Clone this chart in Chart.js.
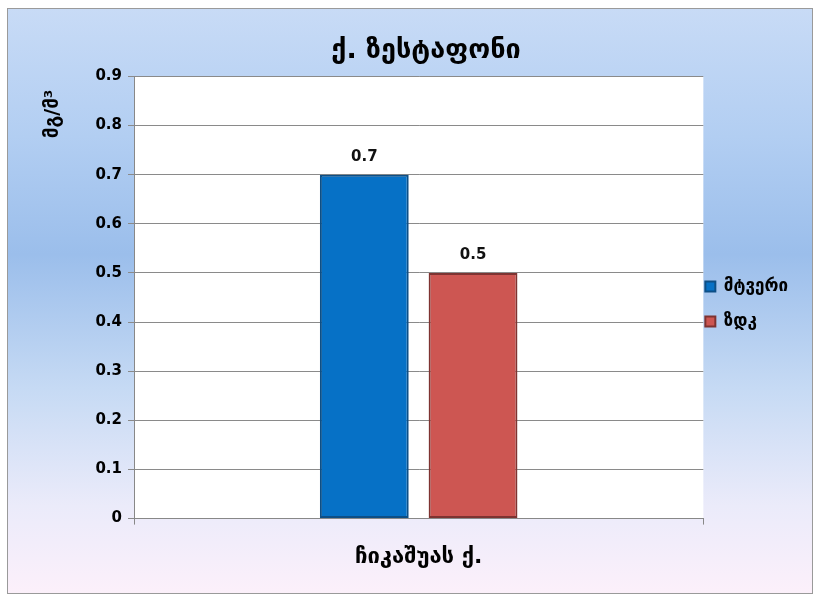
<!DOCTYPE html>
<html>
<head>
<meta charset="utf-8">
<script src="https://cdn.jsdelivr.net/npm/chart.js@4"></script>
<style>
html,body{margin:0;padding:0;background:#fff;}
#wrap{position:relative;width:814px;height:596px;}
canvas{display:block;}
</style>
</head>
<body>
<div id="wrap"><canvas id="c" width="814" height="596"></canvas></div>
<script>
const chartTitle = 'ქ. ზესტაფონი';
const yAxisTitle = 'მგ/მ³';
const categories = ['ჩიკაშუას ქ.'];
const seriesNames = ['მტვერი', 'ზდკ'];
const dustValues = [0.7];
const limitValues = [0.5];
const yTicks = [0, 0.1, 0.2, 0.3, 0.4, 0.5, 0.6, 0.7, 0.8, 0.9];

const GEO = "'DejaVu Sans', 'Noto Sans', sans-serif";

const bgPlugin = {
  id: 'bg',
  afterLayout(chart) {
    const lg = chart.legend;
    if (lg) { lg.left -= 16; lg.right -= 16; lg.top -= 8; lg.bottom -= 8; }
  },
  beforeDraw(chart) {
    const ctx = chart.ctx;
    const x0 = 7, y0 = 8, x1 = 813, y1 = 594;
    const g = ctx.createLinearGradient(0, y0, 0, y1);
    g.addColorStop(0, '#c8dbf6');
    g.addColorStop(0.22, '#b2cef2');
    g.addColorStop(0.42, '#9bbeeb');
    g.addColorStop(0.65, '#c6daf4');
    g.addColorStop(0.85, '#ebebfa');
    g.addColorStop(1, '#fcf0fa');
    ctx.save();
    ctx.fillStyle = g;
    ctx.fillRect(x0, y0, x1 - x0, y1 - y0);
    ctx.strokeStyle = '#9a9a9a';
    ctx.lineWidth = 1;
    ctx.strokeRect(x0 + 0.5, y0 + 0.5, x1 - x0 - 1, y1 - y0 - 1);
    const a = chart.chartArea;
    ctx.fillStyle = '#ffffff';
    ctx.fillRect(a.left, a.top, a.right - a.left, a.bottom - a.top);
    ctx.restore();
  }
};

const labelPlugin = {
  id: 'vals',
  afterDatasetsDraw(chart) {
    const ctx = chart.ctx;
    ctx.save();
    ctx.font = "bold 15px 'DejaVu Sans', sans-serif";
    ctx.fillStyle = '#111';
    ctx.textAlign = 'center';
    ctx.textBaseline = 'bottom';
    chart.data.datasets.forEach((ds, i) => {
      chart.getDatasetMeta(i).data.forEach((bar, j) => {
        ctx.fillText(String(ds.data[j]), bar.x, bar.y - 10);
      });
    });
    ctx.restore();
  }
};

new Chart(document.getElementById('c'), {
  type: 'bar',
  data: {
    labels: categories,
    datasets: [
      { label: seriesNames[0], data: dustValues, backgroundColor: '#0671c6', borderColor: '#0d4f86', borderWidth: 2, borderSkipped: false },
      { label: seriesNames[1], data: limitValues, backgroundColor: '#cd5652', borderColor: '#7e3331', borderWidth: 2, borderSkipped: false }
    ]
  },
  options: {
    responsive: false,
    animation: false,
    devicePixelRatio: 1,
    categoryPercentage: 0.382,
    barPercentage: 0.817,
    layout: { padding: { left: 38, right: 0, top: 35, bottom: 7 } },
    plugins: {
      title: {
        display: true, text: chartTitle, color: '#000',
        font: { family: GEO, size: 27, weight: 'bold' },
        padding: { top: 0, bottom: 9 }
      },
      legend: {
        position: 'right',
        labels: {
          color: '#000', boxWidth: 10, boxHeight: 10, padding: 18,
          font: { family: GEO, size: 17, weight: 'bold' }
        }
      },
      tooltip: { enabled: false }
    },
    scales: {
      x: {
        grid: { display: true, drawOnChartArea: false, drawTicks: true, tickLength: 6, color: '#888', offset: true },
        border: { color: '#888' },
        ticks: { color: '#000', padding: 19, font: { family: GEO, size: 22, weight: 'bold' } }
      },
      y: {
        min: 0, max: 0.9,
        afterBuildTicks(scale) { scale.ticks = yTicks.map(v => ({ value: v })); },
        afterFit(scale) { scale.width = 96; },
        grid: { color: '#8a8a8a', tickLength: 6 },
        border: { color: '#888' },
        ticks: { color: '#000', padding: 6, font: { family: GEO, size: 15, weight: 'bold' }, callback: v => String(v) },
        title: { display: true, text: yAxisTitle + '  ', align: 'end', color: '#000', padding: { top: 4, bottom: 0 }, font: { family: GEO, size: 19, weight: 'bold' } }
      }
    }
  },
  plugins: [bgPlugin, labelPlugin]
});
</script>
</body>
</html>
